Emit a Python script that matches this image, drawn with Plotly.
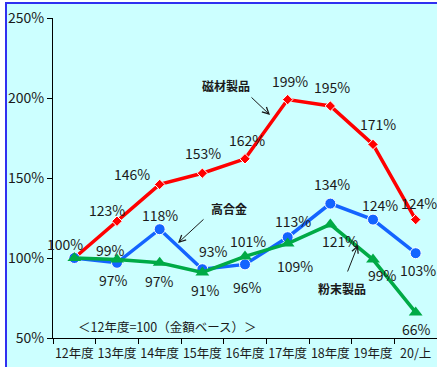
import plotly.graph_objects as go

categories = ["12年度", "13年度", "14年度", "15年度", "16年度", "17年度", "18年度", "19年度", "20/上"]
jishin = [100, 123, 146, 153, 162, 199, 195, 171, 124]   # 磁材製品
kogokin = [100, 97, 118, 93, 96, 113, 134, 124, 103]     # 高合金
funmatsu = [100, 99, 97, 91, 101, 109, 121, 99, 66]      # 粉末製品
y_ticks = [50, 100, 150, 200, 250]

W, H = 437, 367
ML, MR, MT, MB = 53, 0, 18, 29
PW, PH = W - ML - MR, H - MT - MB

def px(x):
    return (x - ML) / PW

def py(y):
    return (H - MB - y) / PH

FONT = "Noto Sans CJK JP, Noto Sans, sans-serif"
TXT = "#1a1a1a"
RED = "#FF0000"
BLUE = "#1464FF"
GREEN = "#00AA46"

fig = go.Figure()
fig.add_trace(go.Scatter(x=categories, y=jishin, mode="lines+markers",
                         line=dict(color=RED, width=3.5),
                         marker=dict(symbol="diamond", size=8, color=RED, line=dict(color="white", width=1)),
                         name="磁材製品"))
fig.add_trace(go.Scatter(x=categories, y=kogokin, mode="lines+markers",
                         line=dict(color=BLUE, width=3.5),
                         marker=dict(symbol="circle", size=11, color=BLUE, line=dict(color="white", width=1)),
                         name="高合金"))
fig.add_trace(go.Scatter(x=categories, y=funmatsu, mode="lines+markers",
                         line=dict(color=GREEN, width=3.5),
                         marker=dict(symbol="triangle-up", size=12, color=GREEN),
                         name="粉末製品"))

# label offsets (dx, dy) in pixels, dy positive = up
red_off = [(-9, 14), (-10, 11), (-28, 10), (1, 20), (2, 19), (2, 19), (2, 19), (5, 20), (3, 17)]
blue_off = [None, (-4, -17), (0, 14), (11, 18), (2, -23), (5, 16), (2, 20), (7, 15), (2, -17)]
green_off = [None, (-7, 10), (0, -18), (3, -18), (3, 15), (7, -22), (10, -17), (9, -15), (1, -17)]

ann = []
for vals, offs in ((jishin, red_off), (kogokin, blue_off), (funmatsu, green_off)):
    for c, v, o in zip(categories, vals, offs):
        if o is None:
            continue
        ann.append(dict(x=c, y=v, xref="x", yref="y", text=f"{v}%", showarrow=False,
                        xshift=o[0], yshift=o[1], borderpad=0,
                        xanchor="center", yanchor="middle",
                        font=dict(family=FONT, size=14, color=TXT)))

# series name labels
for text, x, y in (("磁材製品", 226, 85), ("高合金", 229, 208), ("粉末製品", 342, 288)):
    ann.append(dict(x=px(x), y=py(y), xref="paper", yref="paper", text=text, showarrow=False,
                    xanchor="center", yanchor="middle",
                    borderpad=0, font=dict(family=FONT, size=12, color=TXT, weight=700)))

# arrows: tail -> head (pixels)
for (tx, ty), (hx, hy) in (((250, 96), (270, 115)), ((205, 218), (178, 243)), ((347, 273), (358, 245))):
    ann.append(dict(x=px(hx), y=py(hy), xref="paper", yref="paper", text="",
                    showarrow=True, arrowhead=5, arrowsize=1.3, arrowwidth=1, arrowcolor=TXT,
                    ax=tx - hx, ay=ty - hy, axref="pixel", ayref="pixel"))

ann.append(dict(x=px(167), y=py(326), xref="paper", yref="paper",
                text="＜12年度=100（金額ベース）＞", showarrow=False,
                xanchor="center", yanchor="middle",
                font=dict(family=FONT, size=12.5, color=TXT)))

fig.update_layout(
    width=W, height=H,
    margin=dict(l=ML, r=MR, t=MT, b=MB),
    paper_bgcolor="white", plot_bgcolor="rgba(0,0,0,0)",
    showlegend=False,
    annotations=ann,
    shapes=[dict(type="rect", xref="paper", yref="paper", layer="below",
                 x0=px(6), x1=px(W + 20), y0=py(H + 20), y1=py(3),
                 fillcolor="#CCFFFF", line=dict(color="#3030F0", width=2))],
    font=dict(family=FONT, color=TXT),
)
fig.update_xaxes(type="category", range=[-0.5, 8.5], showline=True, linecolor="black", linewidth=1,
                 ticks="outside", tickson="boundaries", ticklen=5, tickcolor="black",
                 tickangle=0, automargin=False, ticklabelstandoff=4,
                 showgrid=False, zeroline=False, tickfont=dict(family=FONT, size=12.5, color=TXT))
fig.update_yaxes(range=[50, 250], tickvals=y_ticks, ticktext=[f"{t}%" for t in y_ticks],
                 showline=True, linecolor="black", linewidth=1, ticks="outside", ticklen=5,
                 tickcolor="black", showgrid=False, zeroline=False, automargin=False,
                 tickfont=dict(family=FONT, size=14, color=TXT))

fig.write_html("out.html")
